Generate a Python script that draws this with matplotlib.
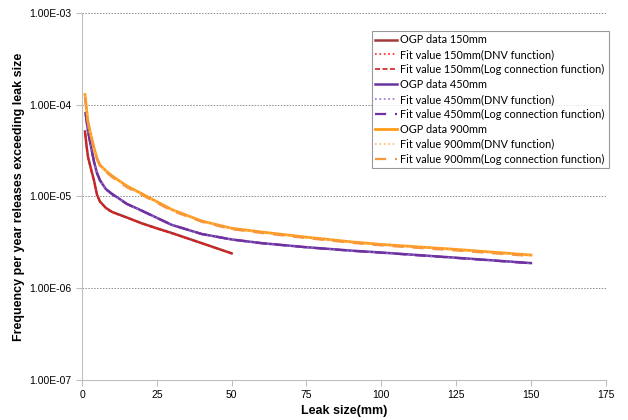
import matplotlib
matplotlib.use("Agg")
import matplotlib.pyplot as plt
import matplotlib.ticker as ticker

plt.rcParams['font.family'] = ['Liberation Sans', 'DejaVu Sans']

# leak size (mm) and frequency per year
x_150 = [1, 1.5, 2, 3, 4, 5, 6, 8, 10, 15, 20, 25, 30, 40, 50]
ogp_150 = [5.1e-5, 3.6e-5, 2.7e-5, 2.0e-5, 1.5e-5, 1.05e-5, 8.8e-6, 7.5e-6, 6.8e-6,
           5.9e-6, 5.1e-6, 4.5e-6, 4.0e-6, 3.1e-6, 2.4e-6]
dnv_150 = [5.0e-5, 3.5e-5, 2.65e-5, 1.95e-5, 1.45e-5, 1.04e-5, 8.7e-6, 7.4e-6, 6.7e-6,
           5.85e-6, 5.05e-6, 4.45e-6, 3.95e-6, 3.08e-6, 2.38e-6]
log_150 = [5.05e-5, 3.55e-5, 2.7e-5, 1.98e-5, 1.48e-5, 1.05e-5, 8.75e-6, 7.45e-6, 6.75e-6,
           5.88e-6, 5.08e-6, 4.48e-6, 3.98e-6, 3.1e-6, 2.4e-6]

x_450 = [1.2, 2, 3, 4, 5, 6, 8, 10, 15, 20, 30, 40, 50, 60, 75, 90, 100, 125, 150]
ogp_450 = [8.1e-5, 5.2e-5, 3.5e-5, 2.4e-5, 1.8e-5, 1.5e-5, 1.2e-5, 1.07e-5, 8.3e-6, 7.0e-6,
           4.9e-6, 3.9e-6, 3.4e-6, 3.1e-6, 2.8e-6, 2.57e-6, 2.45e-6, 2.15e-6, 1.88e-6]
dnv_450 = [7.9e-5, 5.1e-5, 3.45e-5, 2.38e-5, 1.79e-5, 1.49e-5, 1.19e-5, 1.06e-5, 8.25e-6, 6.95e-6,
           4.88e-6, 3.88e-6, 3.38e-6, 3.08e-6, 2.78e-6, 2.55e-6, 2.43e-6, 2.13e-6, 1.86e-6]
log_450 = [8.0e-5, 5.15e-5, 3.48e-5, 2.39e-5, 1.8e-5, 1.5e-5, 1.2e-5, 1.06e-5, 8.28e-6, 6.98e-6,
           4.9e-6, 3.9e-6, 3.4e-6, 3.1e-6, 2.79e-6, 2.56e-6, 2.44e-6, 2.14e-6, 1.87e-6]

x_900 = [1, 1.5, 2, 3, 4, 5, 6, 8, 10, 15, 20, 30, 40, 50, 60, 75, 90, 100, 125, 150]
ogp_900 = [1.29e-4, 9.0e-5, 6.5e-5, 4.6e-5, 3.4e-5, 2.6e-5, 2.2e-5, 1.9e-5, 1.68e-5, 1.3e-5,
           1.07e-5, 7.2e-6, 5.4e-6, 4.5e-6, 4.1e-6, 3.6e-6, 3.2e-6, 3.0e-6, 2.65e-6, 2.3e-6]
dnv_900 = [1.25e-4, 8.8e-5, 6.4e-5, 4.5e-5, 3.35e-5, 2.57e-5, 2.17e-5, 1.87e-5, 1.65e-5, 1.28e-5,
           1.05e-5, 7.1e-6, 5.35e-6, 4.45e-6, 4.05e-6, 3.56e-6, 3.17e-6, 2.97e-6, 2.62e-6, 2.27e-6]
log_900 = [1.2e-4, 8.6e-5, 6.3e-5, 4.45e-5, 3.3e-5, 2.55e-5, 2.15e-5, 1.85e-5, 1.63e-5, 1.26e-5,
           1.04e-5, 7.0e-6, 5.3e-6, 4.4e-6, 4.0e-6, 3.52e-6, 3.13e-6, 2.93e-6, 2.58e-6, 2.24e-6]

fig = plt.figure(figsize=(6.28, 4.2), dpi=100)
ax = fig.add_axes([0.1306, 0.0952, 0.834, 0.874])

ax.plot(x_150, ogp_150, color='#A03B3B', lw=1.8, label='OGP data 150mm')
ax.plot(x_150, dnv_150, color='#FF2020', lw=1.2, ls=':', label='Fit value 150mm(DNV function)')
ax.plot(x_150, log_150, color='#D02020', lw=1.2, ls=(0, (3, 1.5)), label='Fit value 150mm(Log connection function)')
ax.plot(x_450, ogp_450, color='#6A35A0', lw=1.8, label='OGP data 450mm')
ax.plot(x_450, dnv_450, color='#9B6BD0', lw=1.2, ls=':', label='Fit value 450mm(DNV function)')
ax.plot(x_450, log_450, color='#7030A0', lw=1.6, ls=(0, (5, 4)), label='Fit value 450mm(Log connection function)')
ax.plot(x_900, ogp_900, color='#FF9A1A', lw=2.0, label='OGP data 900mm')
ax.plot(x_900, dnv_900, color='#FFB860', lw=1.2, ls=':', label='Fit value 900mm(DNV function)')
ax.plot(x_900, log_900, color='#F7963C', lw=1.6, ls=(0, (5, 4)), label='Fit value 900mm(Log connection function)')

ax.set_yscale('log')
ax.set_ylim(1e-7, 1e-3)
ax.set_xlim(0, 175)
ax.xaxis.set_major_locator(ticker.MultipleLocator(25))
ax.yaxis.set_major_locator(ticker.LogLocator(base=10, numticks=10))
ax.yaxis.set_minor_locator(ticker.NullLocator())
ax.yaxis.set_major_formatter(ticker.FuncFormatter(lambda v, p: '%.2E' % v))

for sp in ['top', 'right']:
    ax.spines[sp].set_visible(False)
for sp in ['left', 'bottom']:
    ax.spines[sp].set_color('#BFBFBF')
ax.tick_params(axis='both', colors='#BFBFBF', labelcolor='black', labelsize=7.5, length=4, width=0.8)
ax.grid(axis='y', color='#8C8C8C', ls=(0, (1.5, 1.5)), lw=0.7)

ax.set_xlabel('Leak size(mm)', fontsize=9, fontweight='bold', labelpad=3)
ax.set_ylabel('Frequency per year releases exceeding leak size', fontsize=9, fontweight='bold', labelpad=3)

leg = ax.legend(loc='upper left', bbox_to_anchor=(0.553, 0.952), frameon=True,
                prop={'family': ['Lato', 'DejaVu Sans'], 'size': 7.8},
                fancybox=False, edgecolor='#808080', handlelength=2.0, handletextpad=0.3,
                labelspacing=0.36, borderpad=0.35, borderaxespad=0)
leg.get_frame().set_linewidth(0.8)

fig.savefig('out.png', dpi=100)
